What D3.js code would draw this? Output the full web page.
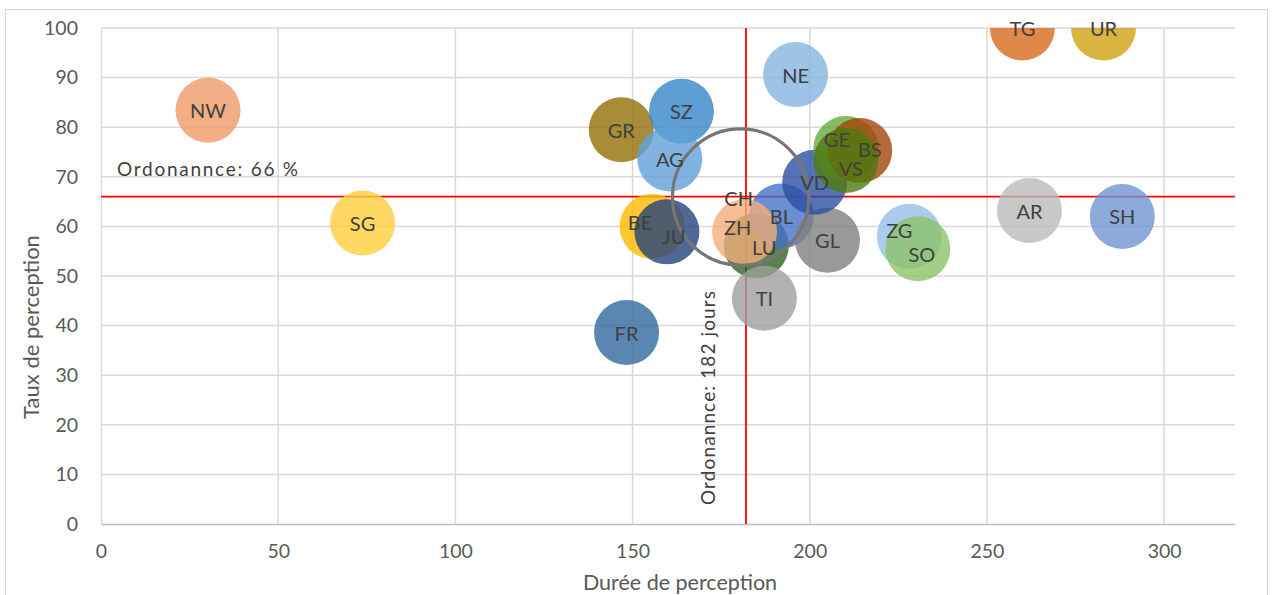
<!DOCTYPE html>
<html>
<head>
<meta charset="utf-8">
<script src="https://cdn.jsdelivr.net/npm/d3@7"></script>
<style>
  html, body { margin: 0; padding: 0; background: #ffffff; }
  svg { display: block; font-family: Lato, "Open Sans", sans-serif; }
</style>
</head>
<body>
<svg id="chart" width="1274" height="595"></svg>
<script>
// ---- data ----
const cantons   = ["NW", "SG", "FR", "GR", "SZ", "AG", "BE", "JU", "NE", "LU", "ZH", "BL", "TI", "GL", "VD", "GE", "BS", "VS", "ZG", "SO", "AR", "SH", "TG", "UR"];
const durations = [30.2, 73.8, 148.3, 146.8, 163.8, 160.5, 155.5, 159.7, 196.0, 184.9, 181.6, 192.0, 187.2, 205.0, 201.4, 210.2, 214.1, 210.2, 228.1, 230.5, 262.0, 288.2, 260.0, 282.9];
const rates     = [83.4, 60.7, 38.6, 79.5, 83.2, 73.6, 60.0, 58.9, 90.6, 56.1, 58.9, 62.1, 45.5, 57.2, 68.9, 75.7, 75.3, 73.3, 58.0, 55.5, 63.2, 62.0, 100, 100];
const sizes     = [1, 1, 1, 1, 1, 1, 1, 1, 1, 1, 1, 1, 1, 1, 1, 1, 1, 1, 1, 1, 1, 1, 1, 1];

const chName = "CH", chDuration = 180.5, chRate = 65.9, chSize = 4.4;

const refDuration = 182, refRate = 66;
const refDurationLabel = "Ordonannce: 182 jours";
const refRateLabel = "Ordonannce: 66 %";

const xTicks = [0, 50, 100, 150, 200, 250, 300];
const yTicks = [0, 10, 20, 30, 40, 50, 60, 70, 80, 90, 100];
const xTitle = "Durée de perception";
const yTitle = "Taux de perception";

// ---- styles (not data) ----
const colors = {
  NW: "#ef9a66", SG: "#fece3b", FR: "#31699f", GR: "#926f05", SZ: "#3786c8", AG: "#60a0d8",
  BE: "#feba00", JU: "#24427c", NE: "#85b4e0", LU: "#2e6420", ZH: "#f2ae7c", BL: "#4572c9",
  TI: "#9f9f9f", GL: "#808080", VD: "#2a50a1", GE: "#68aa3c", BS: "#a1460a", VS: "#4f7a10",
  ZG: "#95bee6", SO: "#8cc369", AR: "#bababa", SH: "#7295d2", TG: "#d86a1d", UR: "#cfa110"
};
const labelNudge = {
  GE: [-9, -10], BS: [10, -2], VS: [5, 8], BE: [-12, -4], JU: [7, 4],
  ZH: [-7, -5], LU: [8, 1], ZG: [-10, -6], SO: [4, 5]
};
const drawOrder = ["NW","SG","FR","GR","SZ","AG","BE","JU","NE","LU","BL","ZH","TI","GL","VD","GE","BS","VS","ZG","SO","AR","SH","TG","UR"];

// ---- layout ----
const plot = { left: 101, right: 1235, top: 28, bottom: 524 };

const svg = d3.select("#chart");

// chart border
svg.append("rect")
  .attr("x", 5.5).attr("y", 9.5).attr("width", 1262).attr("height", 600)
  .attr("fill", "none").attr("stroke", "#d9d9d9").attr("stroke-width", 1.2);

const x = d3.scaleLinear().domain([0, 320]).range([plot.left, plot.right]);
const y = d3.scaleLinear().domain([0, 100]).range([plot.bottom, plot.top]);
const r = d3.scaleSqrt().domain([0, 1]).range([0, 32.5]);

// gridlines
const grid = svg.append("g");
grid.selectAll("line.h").data(yTicks.filter(t => t > 0)).join("line")
  .attr("x1", plot.left).attr("x2", plot.right)
  .attr("y1", d => y(d)).attr("y2", d => y(d))
  .attr("stroke", "#d9d9d9").attr("stroke-width", 1.5);
grid.selectAll("line.v").data(xTicks.filter(t => t > 0)).join("line")
  .attr("y1", plot.top).attr("y2", plot.bottom)
  .attr("x1", d => x(d)).attr("x2", d => x(d))
  .attr("stroke", "#d9d9d9").attr("stroke-width", 1.5);

// axes
const xAxis = d3.axisBottom(x).tickValues(xTicks).tickSize(0).tickPadding(20);
const yAxis = d3.axisLeft(y).tickValues(yTicks).tickSize(0).tickPadding(23);

const gx = svg.append("g").attr("transform", `translate(0,${plot.bottom})`).call(xAxis);
gx.select(".domain").attr("stroke", "#bfbfbf").attr("stroke-width", 1.5);
gx.selectAll("text").attr("fill", "#595959").attr("font-size", 19.5).attr("font-family", "Lato");

const gy = svg.append("g").attr("transform", `translate(${plot.left},0)`).call(yAxis);
gy.select(".domain").attr("stroke", "#d9d9d9").attr("stroke-width", 1.5);
gy.selectAll("text").attr("fill", "#595959").attr("font-size", 19.5).attr("font-family", "Lato");

// titles
svg.append("text")
  .attr("x", 680).attr("y", 582)
  .attr("text-anchor", "middle").attr("dominant-baseline", "central")
  .attr("fill", "#595959").attr("font-size", 21.5)
  .text(xTitle);
svg.append("text")
  .attr("transform", "translate(30,327) rotate(-90)")
  .attr("text-anchor", "middle").attr("dominant-baseline", "central")
  .attr("fill", "#595959").attr("font-size", 22)
  .text(yTitle);

// clip
svg.append("clipPath").attr("id", "plotClip").append("rect")
  .attr("x", plot.left).attr("y", plot.top)
  .attr("width", plot.right - plot.left).attr("height", plot.bottom - plot.top);

// reference lines
const ref = svg.append("g");
ref.append("line")
  .attr("x1", plot.left).attr("x2", plot.right)
  .attr("y1", y(refRate)).attr("y2", y(refRate))
  .attr("stroke", "#ff0000").attr("stroke-width", 1.8);
ref.append("line")
  .attr("x1", x(refDuration)).attr("x2", x(refDuration))
  .attr("y1", plot.top).attr("y2", plot.bottom)
  .attr("stroke", "#ff0000").attr("stroke-width", 1.8);

// bubbles
const data = cantons.map((c, i) => ({ name: c, dx: durations[i], ry: rates[i], size: sizes[i] }));
const byName = new Map(data.map(d => [d.name, d]));
const ordered = drawOrder.map(n => byName.get(n));

const bubbles = svg.append("g").attr("clip-path", "url(#plotClip)");
bubbles.selectAll("circle").data(ordered).join("circle")
  .attr("cx", d => x(d.dx)).attr("cy", d => y(d.ry))
  .attr("r", d => r(d.size))
  .attr("fill", d => colors[d.name])
  .attr("fill-opacity", 0.8);

// CH ring
bubbles.append("circle")
  .attr("cx", x(chDuration)).attr("cy", y(chRate))
  .attr("r", r(chSize))
  .attr("fill", "none").attr("stroke", "#767676").attr("stroke-width", 3.2);

// reference labels
svg.append("text")
  .attr("x", 117).attr("y", 168)
  .attr("dominant-baseline", "central")
  .attr("fill", "#404040").attr("font-size", 19)
  .attr("textLength", 181).attr("lengthAdjust", "spacing")
  .text(refRateLabel);
svg.append("text")
  .attr("transform", "translate(707,505) rotate(-90)")
  .attr("text-anchor", "start").attr("dominant-baseline", "central")
  .attr("fill", "#404040").attr("font-size", 19)
  .attr("textLength", 214).attr("lengthAdjust", "spacing")
  .text(refDurationLabel);

// bubble labels
const labels = svg.append("g");
labels.selectAll("text").data(ordered).join("text")
  .attr("x", d => x(d.dx) + (labelNudge[d.name] ? labelNudge[d.name][0] : 0))
  .attr("y", d => d.ry >= 100 ? plot.top : y(d.ry) + (labelNudge[d.name] ? labelNudge[d.name][1] : 0))
  .attr("text-anchor", "middle").attr("dominant-baseline", "central")
  .attr("fill", "#404040").attr("font-size", 20)
  .text(d => d.name);
labels.append("text")
  .attr("x", x(chDuration) - 2).attr("y", y(chRate) + 1)
  .attr("text-anchor", "middle").attr("dominant-baseline", "central")
  .attr("fill", "#404040").attr("font-size", 20)
  .text(chName);
</script>
</body>
</html>
